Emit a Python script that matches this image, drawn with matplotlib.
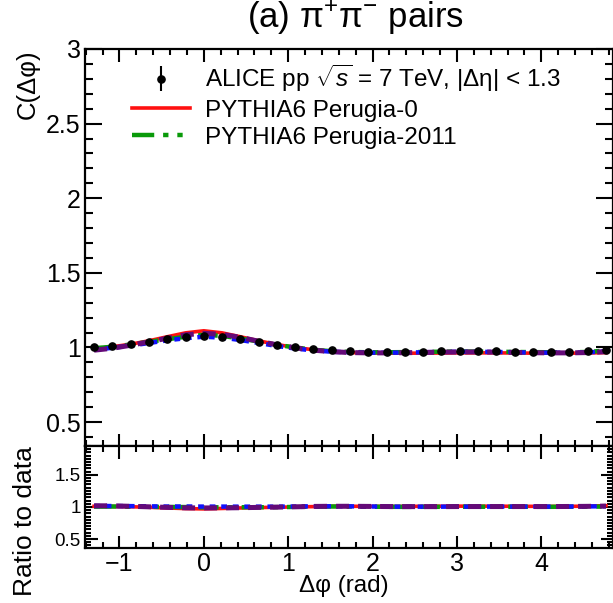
import numpy as np
import matplotlib
matplotlib.use("Agg")
import matplotlib.pyplot as plt
from matplotlib.ticker import MultipleLocator

plt.rcParams['font.family'] = ['Liberation Sans', 'DejaVu Sans']
plt.rcParams['mathtext.fontset'] = 'custom'
plt.rcParams['mathtext.rm'] = 'Liberation Sans'
plt.rcParams['mathtext.it'] = 'Liberation Sans:italic'
plt.rcParams['mathtext.bf'] = 'Liberation Sans:bold'

# Bin index: centres are k * 2*pi/29
bin_index = np.arange(-6, 23)
dphi = bin_index * 2 * np.pi / 29

data = [1.000, 1.012, 1.025, 1.040, 1.055, 1.070, 1.078, 1.072, 1.055, 1.035,
        1.015, 1.000, 0.990, 0.982, 0.976, 0.972, 0.970, 0.970, 0.972, 0.974,
        0.976, 0.976, 0.975, 0.973, 0.971, 0.970, 0.971, 0.975, 0.985]
data_err = [0.006] * 29

perugia0 = [0.990, 1.005, 1.022, 1.045, 1.072, 1.098, 1.112, 1.098, 1.072, 1.045,
            1.020, 1.000, 0.985, 0.973, 0.966, 0.963, 0.962, 0.962, 0.962, 0.963,
            0.964, 0.964, 0.964, 0.963, 0.962, 0.962, 0.962, 0.963, 0.966]
perugia2011 = [0.995, 1.005, 1.020, 1.038, 1.055, 1.072, 1.085, 1.078, 1.060, 1.040,
               1.018, 1.000, 0.985, 0.975, 0.970, 0.968, 0.968, 0.969, 0.970, 0.972,
               0.973, 0.973, 0.972, 0.970, 0.969, 0.968, 0.968, 0.970, 0.980]
model_blue = [0.985, 0.998, 1.012, 1.030, 1.048, 1.062, 1.072, 1.066, 1.050, 1.030,
              1.010, 0.993, 0.980, 0.972, 0.967, 0.965, 0.965, 0.966, 0.968, 0.970,
              0.971, 0.971, 0.970, 0.968, 0.966, 0.965, 0.965, 0.967, 0.975]
model_purple = [0.982, 0.995, 1.015, 1.038, 1.062, 1.085, 1.095, 1.088, 1.068, 1.042,
                1.018, 0.998, 0.982, 0.972, 0.966, 0.964, 0.964, 0.965, 0.967, 0.969,
                0.970, 0.970, 0.969, 0.967, 0.965, 0.964, 0.964, 0.966, 0.972]

data_arr = np.array(data)
models = [
    (perugia0, dict(color='#ff1010', lw=2.6, ls='-'), 'PYTHIA6 Perugia-0'),
    (perugia2011, dict(color='#0a9a0a', lw=3.2, dashes=(5, 2, 1.2, 2, 1.2, 2, 1.2, 2)), 'PYTHIA6 Perugia-2011'),
    (model_blue, dict(color='#1010ff', lw=3.2, dashes=(1.3, 1.3)), None),
    (model_purple, dict(color='#640a78', lw=3.6, dashes=(2.6, 1.8)), None),
]

fig = plt.figure(figsize=(6.13, 6.03), dpi=100)
W, H = 613, 603
left, right = 85, 613
ax = fig.add_axes([left / W, 1 - 446 / H, (right - left) / W, (446 - 49) / H])
axr = fig.add_axes([left / W, 1 - 548 / H, (right - left) / W, (548 - 446) / H], sharex=ax)

handles = []
for vals, style, label in models:
    ln, = ax.plot(dphi, vals, label=label, zorder=2, **style)
    if label:
        handles.append(ln)
    axr.plot(dphi, data_arr / np.array(vals), zorder=2, **style)

eb = ax.errorbar(dphi, data, yerr=data_err, fmt='o', color='black', ms=5.2,
                 elinewidth=1.5, capsize=0, zorder=3)

ax.set_xlim(-1.408, 4.85)
ax.set_ylim(0.34, 3.0)
axr.set_ylim(0.36, 1.95)

for a in (ax, axr):
    for s in a.spines.values():
        s.set_linewidth(1.6)
    a.tick_params(which='both', direction='in', top=True, right=True, width=1.5)
    a.xaxis.set_major_locator(MultipleLocator(1))
    a.xaxis.set_minor_locator(MultipleLocator(0.2))

ax.yaxis.set_major_locator(MultipleLocator(0.5))
ax.yaxis.set_minor_locator(MultipleLocator(0.1))
ax.tick_params(which='major', length=12, labelsize=18, pad=3)
ax.tick_params(which='minor', length=6)
ax.tick_params(axis='x', which='major', length=9)
ax.tick_params(axis='x', which='minor', length=4.5)
ax.tick_params(axis='x', labelbottom=False)

axr.yaxis.set_major_locator(MultipleLocator(0.5))
axr.yaxis.set_minor_locator(MultipleLocator(0.05))
axr.tick_params(axis='y', which='major', length=9, labelsize=13.5, pad=3)
axr.tick_params(axis='y', which='minor', length=4.5)
axr.tick_params(axis='x', which='major', length=9, labelsize=18, pad=3)
axr.tick_params(axis='x', which='minor', length=4.5)
axr.set_yticks([0.5, 1.0, 1.5])
axr.set_yticklabels(['0.5', '1', '1.5'])
ax.set_yticks([0.5, 1.0, 1.5, 2.0, 2.5, 3.0])
ax.set_yticklabels(['0.5', '1', '1.5', '2', '2.5', '3'])
axr.set_xticks([-1, 0, 1, 2, 3, 4])
axr.set_xticklabels(['\u22121', '0', '1', '2', '3', '4'])

fig.text(344 / W, 1 - 586 / H, 'Δφ (rad)', ha='center', va='center', fontsize=17.5)
fig.text(28 / W, 1 - 49 / H, 'C(Δφ)', rotation=90, ha='center', va='top', fontsize=18.5)
fig.text(25 / W, 1 - 521 / H, 'Ratio to data', rotation=90, ha='center', va='center', fontsize=19)
fig.text(355 / W, 1 - 18 / H, r'(a) π$^{+}$π$^{-}$ pairs', ha='center', va='center', fontsize=25)

leg = ax.legend([eb] + handles,
                [r'ALICE pp $\sqrt{s}$ = 7 TeV, |Δη| < 1.3', 'PYTHIA6 Perugia-0', 'PYTHIA6 Perugia-2011'],
                loc='upper left', bbox_to_anchor=(0.07, 0.99), frameon=False,
                fontsize=17.5, handlelength=2.4, handletextpad=0.6, labelspacing=0.22,
                borderaxespad=0)

fig.savefig('out.png', dpi=100)
